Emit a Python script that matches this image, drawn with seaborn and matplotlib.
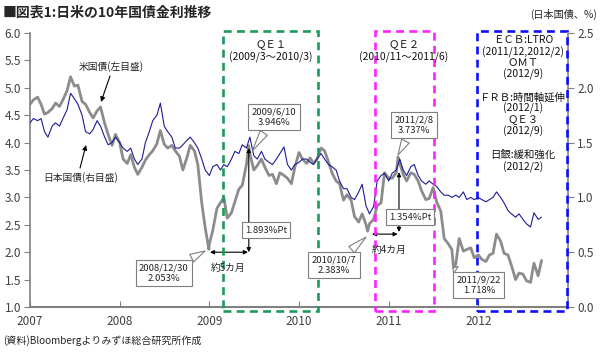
import numpy as np
import pandas as pd
import matplotlib
matplotlib.use('Agg')
import matplotlib.pyplot as plt
import seaborn as sns
from matplotlib.patches import Rectangle

# 半月ごとの読み取り値 (1日, 15日)
dates = pd.date_range('2007-01-01', '2012-09-15', freq='SMS')

us_10y = [
    4.70, 4.78, 4.83, 4.70, 4.52, 4.55, 4.62, 4.72, 4.66, 4.78, 4.95, 5.20,
    5.03, 5.05, 4.75, 4.70, 4.55, 4.45, 4.58, 4.65, 4.35, 4.15, 3.95, 4.15,  # 2007
    4.00, 3.70, 3.62, 3.78, 3.55, 3.42, 3.55, 3.68, 3.78, 3.85, 3.98, 4.22,
    3.97, 3.90, 3.95, 3.85, 3.75, 3.50, 3.72, 3.95, 3.85, 3.60, 2.90, 2.45,  # 2008
    2.15, 2.40, 2.80, 2.90, 3.00, 2.62, 2.72, 2.92, 3.15, 3.22, 3.60, 3.80,
    3.50, 3.58, 3.70, 3.55, 3.40, 3.42, 3.25, 3.45, 3.40, 3.35, 3.25, 3.55,  # 2009
    3.82, 3.70, 3.62, 3.72, 3.62, 3.70, 3.90, 3.85, 3.65, 3.45, 3.30, 3.25,
    2.95, 3.05, 2.95, 2.65, 2.55, 2.70, 2.50, 2.52, 2.60, 2.85, 2.90, 3.45,  # 2010
    3.35, 3.35, 3.45, 3.62, 3.42, 3.30, 3.45, 3.42, 3.30, 3.12, 2.96, 2.98,
    3.18, 2.92, 2.75, 2.25, 2.15, 2.05, 1.78, 2.25, 2.02, 2.05, 2.08, 1.90,  # 2011
    1.95, 1.87, 1.83, 1.95, 1.98, 2.33, 2.20, 1.98, 1.95, 1.76, 1.50, 1.62,
    1.60, 1.48, 1.45, 1.80, 1.57, 1.85,                                      # 2012
]

jp_10y = [
    1.68, 1.72, 1.70, 1.72, 1.60, 1.55, 1.65, 1.68, 1.65, 1.72, 1.80, 1.95,
    1.90, 1.85, 1.75, 1.60, 1.58, 1.62, 1.70, 1.65, 1.55, 1.48, 1.50, 1.55,  # 2007
    1.50, 1.45, 1.42, 1.45, 1.35, 1.30, 1.35, 1.50, 1.60, 1.70, 1.75, 1.86,
    1.65, 1.60, 1.55, 1.45, 1.45, 1.48, 1.52, 1.55, 1.50, 1.45, 1.35, 1.25,  # 2008
    1.20, 1.28, 1.30, 1.25, 1.30, 1.28, 1.35, 1.42, 1.40, 1.48, 1.45, 1.55,
    1.38, 1.35, 1.42, 1.35, 1.32, 1.30, 1.35, 1.40, 1.46, 1.30, 1.25, 1.30,  # 2009
    1.32, 1.35, 1.35, 1.32, 1.30, 1.35, 1.40, 1.35, 1.30, 1.28, 1.25, 1.15,
    1.08, 1.08, 1.00, 0.98, 1.05, 1.12, 0.92, 0.85, 0.92, 1.15, 1.20, 1.22,  # 2010
    1.15, 1.22, 1.25, 1.35, 1.25, 1.20, 1.28, 1.30, 1.20, 1.15, 1.12, 1.15,
    1.12, 1.10, 1.05, 1.02, 1.02, 1.00, 1.02, 1.00, 1.05, 0.98, 1.00, 0.98,  # 2011
    1.00, 0.98, 0.96, 0.98, 1.00, 1.05, 1.00, 0.95, 0.88, 0.85, 0.82, 0.85,
    0.80, 0.76, 0.73, 0.86, 0.80, 0.82,                                      # 2012
]

# 吹き出しの日付と米国債利回り
key_dates = pd.to_datetime(['2008-12-30', '2009-06-10', '2010-10-07', '2011-02-08', '2011-09-22'])
key_us = [2.053, 3.946, 2.383, 3.737, 1.718]


def to_year(d):
    d = pd.DatetimeIndex(d)
    return np.asarray(d.year + (d.dayofyear - 1) / np.where(d.is_leap_year, 366, 365))


us = pd.DataFrame({'date': list(dates) + list(key_dates), 'yield': us_10y + key_us})
us = us.sort_values('date').reset_index(drop=True)
us['x'] = to_year(us['date'])
jp = pd.DataFrame({'x': to_year(dates), 'yield': jp_10y})

sns.set_style('ticks')
plt.rcParams['font.family'] = ['Noto Sans CJK JP', 'DejaVu Sans']

fig = plt.figure(figsize=(6, 3.56), dpi=100)
ax = fig.add_axes([0.05, 0.1376, 0.8967, 0.7697])
sns.lineplot(data=us, x='x', y='yield', ax=ax, color='#8c8c8c', lw=2.0, estimator=None)
ax2 = ax.twinx()
sns.lineplot(data=jp, x='x', y='yield', ax=ax2, color='#1c1c96', lw=0.8, estimator=None)

spine_c = '#808080'
for a in (ax, ax2):
    a.set_xlabel('')
    a.set_ylabel('')
    a.spines['top'].set_visible(False)
ax.spines['right'].set_visible(False)
ax2.spines['left'].set_visible(False)
ax2.spines['bottom'].set_visible(False)
ax.spines['left'].set_color(spine_c)
ax.spines['bottom'].set_color(spine_c)
ax2.spines['right'].set_color(spine_c)
ax.spines['left'].set_linewidth(1.2)
ax.spines['bottom'].set_linewidth(1.5)
ax2.spines['right'].set_linewidth(1.2)

ax.set_xticks(range(2007, 2013))
ax.set_xticklabels([str(y) for y in range(2007, 2013)])
ax.set_yticks(np.arange(1.0, 6.01, 0.5))
ax.set_yticklabels(['%.1f' % v for v in np.arange(1.0, 6.01, 0.5)])
ax2.set_yticks(np.arange(0.0, 2.51, 0.5))
ax2.set_yticklabels(['%.1f' % v for v in np.arange(0.0, 2.51, 0.5)])
ax.tick_params(axis='y', direction='out', length=4, width=0.8, color=spine_c,
               labelsize=8.5, labelcolor='#404040', pad=2.5)
ax.tick_params(axis='x', direction='in', length=4, width=0.8, color=spine_c,
               labelsize=8.5, labelcolor='#404040', pad=6)
ax2.tick_params(axis='y', direction='out', length=4, width=0.8, color=spine_c,
                labelsize=8.5, labelcolor='#404040', pad=2.5)

T = ax.transData

# 政策期間の点線枠
boxes = [(2009.155, 2010.215, '#1e9a5a'), (2010.85, 2011.51, '#ff22ff'), (2011.99, 2012.99, '#1010ff')]
for x0, x1, c in boxes:
    ax2.add_patch(Rectangle((x0, 0.927), x1 - x0, 6.045 - 0.927, transform=T, fill=False,
                            ec=c, lw=1.9, ls=(0, (3, 2)), clip_on=False, zorder=5))

tfont = dict(ha='center', va='center', fontsize=7.5, color='#111111', transform=T, zorder=6)
ax2.text(2009.69, 5.78, 'ＱＥ１', **tfont)
ax2.text(2009.69, 5.56, '(2009/3～2010/3)', **tfont)
ax2.text(2011.17, 5.78, 'ＱＥ２', **tfont)
ax2.text(2011.17, 5.56, '(2010/11～2011/6)', **tfont)
side = [('ＥＣＢ:LTRO', 5.872), ('(2011/12,2012/2)', 5.653), ('ＯＭＴ', 5.453), ('(2012/9)', 5.252),
        ('ＦＲＢ:時間軸延伸', 4.832), ('(2012/1)', 4.631), ('ＱＥ３', 4.412), ('(2012/9)', 4.212),
        ('日銀:緩和強化', 3.774), ('(2012/2)', 3.555)]
for s, yy in side:
    ax2.text(2012.50, yy, s, **tfont)

# 系列ラベル
arr = dict(arrowstyle='-|>', color='black', lw=0.8, mutation_scale=7, shrinkA=0, shrinkB=0)
ax2.text(2007.90, 5.39, '米国債(左目盛)', ha='center', va='center', fontsize=7, transform=T, zorder=6)
ax2.annotate('', xy=(2007.792, 4.741), xytext=(2007.892, 5.215), xycoords=T, textcoords=T, arrowprops=arr)
ax2.text(2007.57, 3.37, '日本国債(右目盛)', ha='center', va='center', fontsize=7, transform=T, zorder=6)
ax2.annotate('', xy=(2007.625, 3.956), xytext=(2007.558, 3.536), xycoords=T, textcoords=T, arrowprops=arr)

# 上昇幅と期間の矢印
darr = dict(arrowstyle='<|-|>', color='black', lw=0.8, mutation_scale=6, shrinkA=0, shrinkB=0)
ax2.annotate('', xy=(2009.44, 3.90), xytext=(2009.44, 2.0), xycoords=T, textcoords=T, arrowprops=darr)
ax2.annotate('', xy=(2009.007, 2.0), xytext=(2009.43, 2.0), xycoords=T, textcoords=T, arrowprops=darr)
ax2.annotate('', xy=(2011.115, 3.46), xytext=(2011.115, 2.37), xycoords=T, textcoords=T, arrowprops=darr)
ax2.annotate('', xy=(2010.814, 2.33), xytext=(2011.10, 2.33), xycoords=T, textcoords=T, arrowprops=darr)
ax2.text(2009.208, 1.712, '約5カ月', ha='center', va='center', fontsize=7, transform=T, zorder=6)
ax2.text(2011.004, 2.04, '約4カ月', ha='center', va='center', fontsize=7, transform=T, zorder=6)

bb = dict(boxstyle='square,pad=0.35', fc='white', ec='#7f7f7f', lw=0.8)
ax2.text(2009.632, 2.405, '1.893%Pt', ha='center', va='center', fontsize=6.8, bbox=bb, transform=T, zorder=6)
ax2.text(2011.238, 2.642, '1.354%Pt', ha='center', va='center', fontsize=6.8, bbox=bb, transform=T, zorder=6)

# 日付と利回りの吹き出し
box_pos = [(2008.494, 1.620), (2009.721, 4.467), (2010.390, 1.766), (2011.282, 4.321), (2012.007, 1.401)]
tip_pos = [(2008.952, 2.022), (2009.48, 3.85), (2010.747, 2.277), (2011.104, 3.774), (2011.717, 1.712)]
for d, v, bp, tp in zip(key_dates, key_us, box_pos, tip_pos):
    label = f'{d.year}/{d.month}/{d.day}\n{v:.3f}%'
    ax2.annotate(label, xy=tp, xytext=bp, xycoords=T, textcoords=T, ha='center', va='center',
                 fontsize=6.8, color='#222222', linespacing=1.25, bbox=bb, zorder=6,
                 arrowprops=dict(arrowstyle='wedge,tail_width=0.9,shrink_factor=0.5',
                                 fc='white', ec='#7f7f7f', lw=0.8, shrinkB=0))

ax.set_xlim(2007, 2013)
ax.set_ylim(1.0, 6.0)
ax2.set_ylim(0.0, 2.5)

fig.text(0.005, 1 - 13 / 356, '■図表1:日米の10年国債金利推移', fontsize=10, fontweight='bold', va='center')
fig.text(0.995, 1 - 14 / 356, '(日本国債、%)', fontsize=7.3, ha='right', va='center')
fig.text(0.005, 1 - 341 / 356, '(資料)Bloombergよりみずほ総合研究所作成', fontsize=7.2, va='center')

fig.savefig('out.png', dpi=100)
